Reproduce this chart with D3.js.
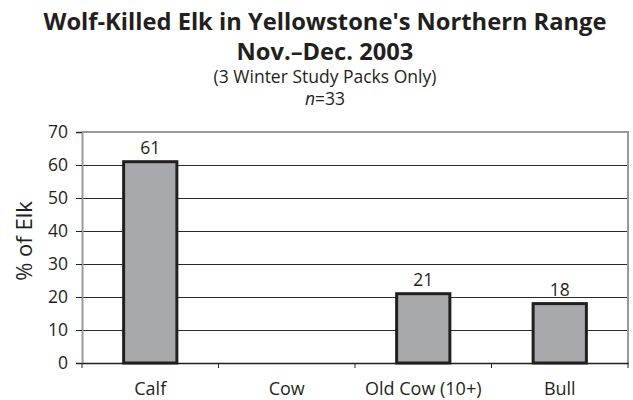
<!DOCTYPE html>
<html><head><meta charset="utf-8">
<script src="https://cdn.jsdelivr.net/npm/d3@7/dist/d3.min.js"></script>
<style>body{margin:0;background:#fff}text{font-family:"Open Sans",sans-serif;fill:#231f20}</style>
</head><body><svg id="c" width="633" height="400"></svg>
<script>
const categories = ["Calf","Cow","Old Cow (10+)","Bull"];
const values = [61, 0, 21, 18];
const yTicks = [0,10,20,30,40,50,60,70];
const titleLines = ["Wolf-Killed Elk in Yellowstone's Northern Range","Nov.\u2013Dec. 2003"];
const subtitle = "(3 Winter Study Packs Only)";

const svg = d3.select("#c");
const m = {l:82, r:628, t:132, b:363};
const x = d3.scaleBand().domain(categories).range([m.l, m.r]).padding(0);
const y = d3.scaleLinear().domain([0,70]).range([m.b, m.t]);

// titles
svg.append("text").attr("x",325).attr("y",30).attr("text-anchor","middle")
  .style("font-size","23.7px").style("font-weight","bold").text(titleLines[0]);
svg.append("text").attr("x",325).attr("y",60).attr("text-anchor","middle")
  .style("font-size","23.7px").style("font-weight","bold").text(titleLines[1]);
svg.append("text").attr("x",325).attr("y",83).attr("text-anchor","middle")
  .style("font-size","17.5px").text(subtitle);
const nt = svg.append("text").attr("x",325).attr("y",105).attr("text-anchor","middle").style("font-size","17.5px");
nt.append("tspan").style("font-style","italic").text("n");
nt.append("tspan").text("=33");

// gridlines
svg.append("g").selectAll("line").data(yTicks.filter(d=>d>0 && d<70)).join("line")
  .attr("x1",m.l).attr("x2",m.r).attr("y1",d=>y(d)).attr("y2",d=>y(d))
  .attr("stroke","#2a2a2a").attr("stroke-width",1).attr("shape-rendering","crispEdges");

// border top/right
svg.append("path").attr("d",`M${m.l},${y(70)}H${m.r}V${m.b}`).attr("fill","none")
  .attr("stroke","#999").attr("stroke-width",2);

// y axis
const ya = svg.append("g").attr("transform",`translate(${m.l},0)`)
  .call(d3.axisLeft(y).tickValues(yTicks).tickSize(6).tickPadding(8));
ya.select(".domain").attr("stroke","#999").attr("stroke-width",2);
ya.selectAll(".tick line").attr("stroke","#231f20");
ya.selectAll(".tick text").style("font-size","17.5px").style("font-family","Open Sans").attr("fill","#231f20");

// x axis
const xa = svg.append("g").attr("transform",`translate(0,${m.b})`)
  .call(d3.axisBottom(x).tickSize(0));
xa.select(".domain").attr("stroke","#231f20").attr("stroke-width",1.5);
xa.selectAll(".tick text").attr("y",32).attr("dy",0).style("font-size","18px").style("font-family","Open Sans").attr("fill","#231f20");
const bounds = categories.map(c=>x(c)).concat([m.r]);
svg.append("g").selectAll("line").data(bounds).join("line")
  .attr("x1",d=>d).attr("x2",d=>d).attr("y1",m.b).attr("y2",m.b+5)
  .attr("stroke","#231f20").attr("stroke-width",1);

// bars
const bw = x.bandwidth()*0.39;
const data = categories.map((c,i)=>({c, v:values[i]}));
svg.append("g").selectAll("rect").data(data.filter(d=>d.v>0)).join("rect")
  .attr("x",d=>x(d.c)+x.bandwidth()/2-bw/2).attr("width",bw)
  .attr("y",d=>y(d.v)).attr("height",d=>y(0)-y(d.v))
  .attr("fill","#a7a9ac").attr("stroke","#231f20").attr("stroke-width",3);
svg.append("g").selectAll("text").data(data.filter(d=>d.v>0)).join("text")
  .attr("x",d=>x(d.c)+x.bandwidth()/2).attr("y",d=>y(d.v)-8)
  .attr("text-anchor","middle").style("font-size","17.5px").text(d=>d.v);

// y title
svg.append("text").attr("transform","translate(32,241) rotate(-90)").attr("text-anchor","middle")
  .style("font-size","22px").text("% of Elk");
</script></body></html>
